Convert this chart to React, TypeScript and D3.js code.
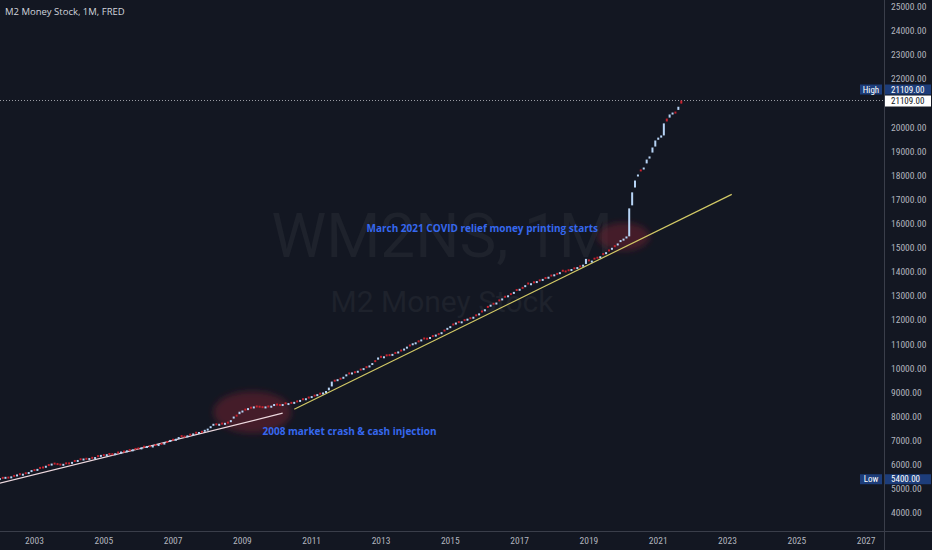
import * as d3 from "d3";
import React from "react";

// WM2NS monthly bars, Jan 2002 .. Sep 2021 (billions of USD), one row per year
const startYear = 2002;
const monthlyOpen = [
  5400, 5500, 5470, 5510, 5490, 5580, 5570, 5650, 5610, 5690, 5670, 5740,
  5820, 5800, 5910, 5930, 5930, 6030, 6020, 6090, 6070, 6050, 6010, 6100,
  6100, 6090, 6200, 6170, 6270, 6230, 6290, 6250, 6330, 6290, 6400, 6380,
  6440, 6410, 6490, 6480, 6450, 6550, 6520, 6590, 6570, 6650, 6610, 6700,
  6720, 6690, 6790, 6750, 6810, 6770, 6860, 6830, 6910, 6890, 6990, 7000,
  7080, 7050, 7110, 7230, 7210, 7190, 7290, 7270, 7370, 7330, 7410, 7420,
  7470, 7530, 7640, 7720, 7670, 7750, 7710, 7790, 7790, 7920, 8080, 8100,
  8220, 8330, 8320, 8410, 8390, 8460, 8450, 8430, 8400, 8460, 8430, 8480,
  8540, 8520, 8500, 8590, 8540, 8610, 8590, 8670, 8660, 8760, 8740, 8830,
  8830, 8910, 8900, 8990, 8980, 9030, 9090, 9250, 9530, 9520, 9610, 9620,
  9700, 9830, 9800, 9880, 9870, 9990, 9980, 10090, 10090, 10180, 10340, 10360,
  10520, 10470, 10580, 10590, 10570, 10680, 10670, 10780, 10790, 10870, 10990, 11000,
  11050, 11160, 11170, 11280, 11270, 11270, 11380, 11370, 11460, 11470, 11610, 11630,
  11710, 11860, 11870, 11960, 11930, 12040, 12030, 12120, 12110, 12240, 12250, 12400,
  12410, 12590, 12600, 12720, 12700, 12860, 12870, 13010, 13000, 13120, 13140, 13290,
  13270, 13380, 13410, 13560, 13500, 13610, 13590, 13690, 13680, 13790, 13780, 13890,
  13880, 13960, 13960, 14090, 14060, 14110, 14100, 14190, 14180, 14270, 14270, 14330,
  14520, 14440, 14590, 14630, 14620, 14780, 14790, 14930, 14970, 15110, 15150, 15250,
  15340, 15400, 15475, 16760, 17500, 17960, 18250, 18290, 18500, 18700, 18950, 19200,
  19480, 19570, 19660, 20360, 20400, 20530, 20650, 20720, 21109,
];
const monthlyClose = [
  5450, 5480, 5500, 5470, 5520, 5560, 5600, 5620, 5630, 5660, 5700, 5780,
  5800, 5830, 5880, 5900, 5960, 6000, 6050, 6060, 6040, 6020, 6040, 6070,
  6080, 6120, 6170, 6200, 6240, 6260, 6260, 6280, 6300, 6320, 6370, 6410,
  6420, 6440, 6460, 6450, 6480, 6520, 6550, 6560, 6600, 6620, 6640, 6680,
  6700, 6720, 6760, 6780, 6780, 6800, 6830, 6860, 6880, 6920, 6960, 7030,
  7050, 7080, 7150, 7200, 7180, 7220, 7260, 7300, 7340, 7360, 7380, 7450,
  7500, 7600, 7700, 7680, 7700, 7720, 7740, 7760, 7850, 8000, 8050, 8200,
  8250, 8300, 8350, 8380, 8420, 8430, 8420, 8400, 8420, 8430, 8450, 8520,
  8500, 8490, 8520, 8560, 8560, 8580, 8610, 8640, 8690, 8730, 8760, 8800,
  8850, 8880, 8930, 8960, 9000, 9060, 9200, 9450, 9500, 9550, 9580, 9650,
  9750, 9800, 9830, 9850, 9900, 9960, 10010, 10060, 10120, 10220, 10300, 10450,
  10480, 10500, 10550, 10560, 10600, 10650, 10700, 10750, 10820, 10900, 10950, 11040,
  11080, 11130, 11200, 11250, 11250, 11300, 11350, 11400, 11430, 11500, 11580, 11680,
  11750, 11830, 11900, 11920, 11950, 12010, 12060, 12090, 12140, 12200, 12280, 12360,
  12450, 12560, 12640, 12680, 12730, 12830, 12900, 12980, 13030, 13090, 13170, 13260,
  13300, 13350, 13450, 13520, 13530, 13580, 13620, 13660, 13710, 13760, 13800, 13860,
  13900, 13930, 13990, 14050, 14030, 14080, 14120, 14160, 14200, 14240, 14300, 14540,
  14450, 14470, 14550, 14600, 14650, 14750, 14820, 14900, 15000, 15080, 15180, 15320,
  15380, 15470, 16635, 17300, 17790, 18040, 18200, 18330, 18660, 18790, 19160, 19450,
  19570, 19660, 20160, 20240, 20530, 20610, 20600, 20850, 20980,
];

const yTicks = [4000, 5000, 6000, 7000, 8000, 9000, 10000, 11000, 12000, 13000, 14000, 15000, 16000, 17000, 18000, 19000, 20000, 21000, 22000, 23000, 24000, 25000];
const yearTicks = [2003, 2005, 2007, 2009, 2011, 2013, 2015, 2017, 2019, 2021, 2023, 2025, 2027];

// drawn trend lines: [start date, start value, end date, end value]
const preCrashLine: [Date, number, Date, number] = [new Date(2002, 0, 1), 5240, new Date(2010, 2, 1), 8140];
const postCrashLine: [Date, number, Date, number] = [new Date(2010, 6, 1), 8300, new Date(2023, 1, 15), 17215];

const notes = [
  { text: "2008 market crash & cash injection", date: new Date(2009, 7, 1), value: 7240 },
  { text: "March 2021 COVID relief money printing starts", date: new Date(2012, 7, 1), value: 15640 },
];
const highlights = [
  { date: new Date(2009, 3, 15), value: 8180 },
  { date: new Date(2020, 0, 1), value: 15460 },
];

const W = 932;
const H = 550;
const axisX = 884;
const axisY = 531;
const bg = "#131722";
const upColor = "#b7d4f6";
const downColor = "#c8232f";
const axisText = "#b2b5be";
const narrow = "'Liberation Sans Narrow', 'Roboto Condensed', Roboto, sans-serif";

const App: React.FC = () => {
  const x = d3.scaleTime()
    .domain([new Date(2002, 0, 1), new Date(2027, 0, 1)])
    .range([-0.15, 866.1]);
  const y = d3.scaleLinear().domain([4000, 25000]).range([513, 6.7]);

  const bars = monthlyClose.map((c, i) => ({
    date: new Date(startYear, i, 1),
    open: monthlyOpen[i],
    close: c,
  }));
  const high = d3.max(bars, d => Math.max(d.open, d.close))!;
  const low = d3.min(bars, d => Math.min(d.open, d.close))!;
  const fmt = d3.format(".2f");
  const line = (l: [Date, number, Date, number]) =>
    `M${x(l[0])},${y(l[1])}L${x(l[2])},${y(l[3])}`;

  return (
    <svg width={W} height={H} style={{ position: "absolute", left: 0, top: 0, display: "block" }}>
      <defs>
        <clipPath id="pane"><rect x={0} y={0} width={axisX} height={axisY} /></clipPath>
        <filter id="soft" x="-50%" y="-50%" width="200%" height="200%">
          <feGaussianBlur stdDeviation="3" />
        </filter>
      </defs>
      <rect width={W} height={H} fill={bg} />

      <g clipPath="url(#pane)">
        {/* watermark */}
        <text x={442} y={257} textAnchor="middle" fill="#1e222c" fontFamily="Roboto, sans-serif" fontSize={62}>WM2NS, 1M</text>
        <text x={442} y={312} textAnchor="middle" fill="#1e222c" fontFamily="Roboto, sans-serif" fontSize={30}>M2 Money Stock</text>

        {highlights.map((h, i) => (
          <ellipse key={i} cx={x(h.date)} cy={y(h.value)} rx={i === 0 ? 39 : 26} ry={i === 0 ? 21 : 14}
            fill="#6b2231" fillOpacity={0.55} filter="url(#soft)" />
        ))}

        <line x1={0} x2={axisX} y1={y(high)} y2={y(high)} stroke="#9a9ca4" strokeDasharray="1,2" />

        <path d={line(preCrashLine)} stroke="#eed9df" strokeWidth={1.2} fill="none" />
        <path d={line(postCrashLine)} stroke="#d2c966" strokeWidth={1.2} fill="none" />

        {bars.map((b, i) => {
          const top = y(Math.max(b.open, b.close));
          const h = Math.max(2, Math.abs(y(b.open) - y(b.close)));
          return (
            <rect key={i} x={x(b.date) - 1} y={top} width={2} height={h}
              fill={b.close >= b.open ? upColor : downColor} />
          );
        })}

        {notes.map((n, i) => (
          <text key={i} x={x(n.date)} y={y(n.value)} fill="#3668ee" fontFamily="'Open Sans', sans-serif"
            fontWeight={700} fontSize={10}>{n.text}</text>
        ))}
      </g>

      {/* title */}
      <text x={5} y={15} fill="#d1d4dc" fontFamily="'Open Sans', sans-serif" fontSize={9.5}>M2 Money Stock, 1M, FRED</text>

      {/* axes */}
      <line x1={axisX + 0.5} x2={axisX + 0.5} y1={0} y2={H} stroke="#3a3e4a" />
      <line x1={0} x2={W} y1={axisY + 0.5} y2={axisY + 0.5} stroke="#3a3e4a" />

      {yTicks.map(v => (
        <text key={v} x={891} y={y(v)} dy="0.35em" fill={axisText} fontFamily={narrow} fontSize={9.5}>{fmt(v)}</text>
      ))}
      {yearTicks.map(t => (
        <text key={t} x={x(new Date(t, 0, 1))} y={544} textAnchor="middle" fill={axisText} fontFamily={narrow} fontSize={9.5}>{t}</text>
      ))}

      {/* high / low markers */}
      <g fontFamily={narrow} fontSize={9}>
        <rect x={860} y={y(high) - 16} width={22} height={10} fill="#1d3d7a" />
        <text x={871} y={y(high) - 11} dy="0.35em" textAnchor="middle" fill="#ffffff">High</text>
        <rect x={885} y={y(high) - 16} width={46} height={10} fill="#1d3d7a" />
        <text x={891} y={y(high) - 11} dy="0.35em" fill="#ffffff">{fmt(high)}</text>
        <rect x={885} y={y(high) - 5} width={46} height={11} fill="#ffffff" />
        <text x={891} y={y(high) + 0.5} dy="0.35em" fill="#131722">{fmt(high)}</text>

        <rect x={860} y={y(low) - 5} width={22} height={10} fill="#1d3d7a" />
        <text x={871} y={y(low)} dy="0.35em" textAnchor="middle" fill="#ffffff">Low</text>
        <rect x={885} y={y(low) - 5} width={46} height={10} fill="#1d3d7a" />
        <text x={891} y={y(low)} dy="0.35em" fill="#ffffff">{fmt(low)}</text>
      </g>
    </svg>
  );
};

export default App;
